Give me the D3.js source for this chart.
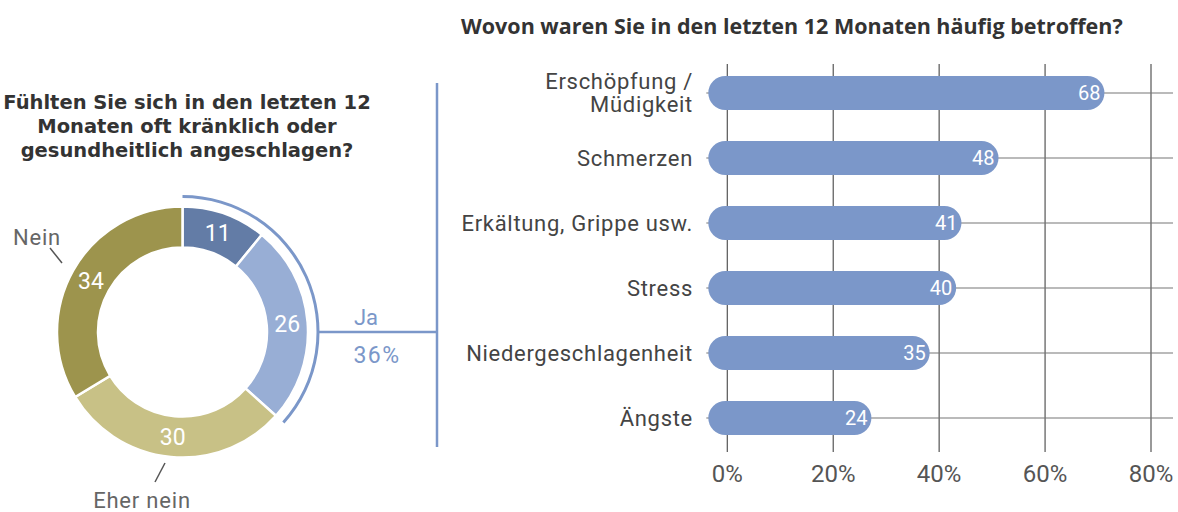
<!DOCTYPE html>
<html>
<head>
<meta charset="utf-8">
<script src="https://cdn.jsdelivr.net/npm/d3@7"></script>
<style>
  body { margin: 0; background: #fff; }
  svg { display: block; font-family: Roboto, "Noto Sans", sans-serif; }
</style>
</head>
<body>
<script>
// Daten Ringdiagramm
var ringKategorien = ["Ja", "Eher ja", "Eher nein", "Nein"];
var ringWerte = [11, 26, 30, 34];
var ringFarben = ["#637ca6", "#98aed5", "#c8c186", "#9d944d"];
var jaSumme = "36%";

// Daten Balkendiagramm
var balkenKategorien = ["Erschöpfung / Müdigkeit", "Schmerzen", "Erkältung, Grippe usw.", "Stress", "Niedergeschlagenheit", "Ängste"];
var balkenZeilen = [["Erschöpfung /", "Müdigkeit"], ["Schmerzen"], ["Erkältung, Grippe usw."], ["Stress"], ["Niedergeschlagenheit"], ["Ängste"]];
var balkenWerte = [68, 48, 41, 40, 35, 24];
var ticks = [0, 20, 40, 60, 80];

var blau = "#7b97c9";
var titelFont = "'Open Sans', Roboto, sans-serif";

var svg = d3.select("body").append("svg").attr("width", 1178).attr("height", 512);

// ---------- linker Teil: Ring ----------
var titelLinks = ["Fühlten Sie sich in den letzten 12", "Monaten oft kränklich oder", "gesundheitlich angeschlagen?"];
svg.append("g").selectAll("text").data(titelLinks).enter().append("text")
  .attr("x", 187).attr("y", function (d, i) { return 109 + i * 24; })
  .attr("text-anchor", "middle").attr("font-size", 19.5).attr("font-weight", "bold")
  .attr("font-family", "'DejaVu Sans', sans-serif")
  .attr("fill", "#333").text(function (d) { return d; });

var cx = 182.5, cy = 332;
var rInnen = 84.5, rAussen = 125.5;
var ring = svg.append("g").attr("transform", "translate(" + cx + "," + cy + ")");

var pie = d3.pie().sort(null).value(function (d) { return d; });
var boegen = pie(ringWerte);
var arc = d3.arc().innerRadius(rInnen).outerRadius(rAussen);

ring.selectAll("path.seg").data(boegen).enter().append("path")
  .attr("class", "seg")
  .attr("d", arc)
  .attr("fill", function (d, i) { return ringFarben[i]; })
  .attr("stroke", "#fff").attr("stroke-width", 2.5);

ring.selectAll("text.wert").data(boegen).enter().append("text")
  .attr("class", "wert")
  .attr("transform", function (d) { return "translate(" + arc.centroid(d) + ")"; })
  .attr("text-anchor", "middle").attr("dy", "0.36em")
  .attr("font-size", 23).attr("fill", "#fff")
  .text(function (d) { return d.data; });

// Klammer fuer "Ja"
var jaEnde = boegen[1].endAngle;
var klammer = d3.arc().innerRadius(134).outerRadius(137).startAngle(0).endAngle(jaEnde);
ring.append("path").attr("d", klammer()).attr("fill", blau);

// Beschriftungen Nein / Eher nein
var aussenLabels = [
  { idx: 3, x: 37, y: 245, l: [[50, 248], [62, 263]] },
  { idx: 2, x: 142, y: 508, l: [[165, 463], [155, 482]] }
];
aussenLabels.forEach(function (a) {
  svg.append("line").attr("x1", a.l[0][0]).attr("y1", a.l[0][1]).attr("x2", a.l[1][0]).attr("y2", a.l[1][1])
    .attr("stroke", "#555").attr("stroke-width", 1.5);
  svg.append("text").attr("x", a.x).attr("y", a.y).attr("text-anchor", "middle")
    .attr("font-size", 22).attr("letter-spacing", 0.8).attr("fill", "#666").text(ringKategorien[a.idx]);
});

// Verbindung zum Balkendiagramm
svg.append("line").attr("x1", cx + 136).attr("x2", 437).attr("y1", cy).attr("y2", cy)
  .attr("stroke", blau).attr("stroke-width", 2.5);
svg.append("line").attr("x1", 437).attr("x2", 437).attr("y1", 83).attr("y2", 447)
  .attr("stroke", blau).attr("stroke-width", 2.5);
svg.append("text").attr("x", 366).attr("y", 325).attr("text-anchor", "middle")
  .attr("font-size", 22).attr("fill", blau).text(ringKategorien[0]);
svg.append("text").attr("x", 377).attr("y", 363).attr("text-anchor", "middle")
  .attr("font-size", 23).attr("letter-spacing", 1.5).attr("fill", blau).text(jaSumme);

// ---------- rechter Teil: Balken ----------
svg.append("text").attr("x", 461).attr("y", 34).attr("font-size", 21.5).attr("font-weight", "bold")
  .attr("font-family", titelFont)
  .attr("fill", "#333").text("Wovon waren Sie in den letzten 12 Monaten häufig betroffen?");

var x = d3.scaleLinear().domain([0, 80]).range([727.3, 1151]);
var y = d3.scalePoint().domain(balkenKategorien).range([93, 418]);
var kappe = 17;

var gitter = svg.append("g");
gitter.selectAll("line.v").data(ticks).enter().append("line")
  .attr("x1", function (d) { return x(d); }).attr("x2", function (d) { return x(d); })
  .attr("y1", 64).attr("y2", 452).attr("stroke", "#555").attr("stroke-width", 1.2);
gitter.selectAll("line.h").data(balkenKategorien).enter().append("line")
  .attr("x1", x(0) - 21).attr("x2", 1173)
  .attr("y1", function (d) { return y(d); }).attr("y2", function (d) { return y(d); })
  .attr("stroke", "#777").attr("stroke-width", 1.2);

svg.append("g").selectAll("text").data(ticks).enter().append("text")
  .attr("x", function (d) { return x(d); }).attr("y", 482)
  .attr("text-anchor", "middle").attr("font-size", 24).attr("fill", "#555")
  .text(function (d) { return d + "%"; });

var balken = svg.append("g");
balken.selectAll("line").data(balkenWerte).enter().append("line")
  .attr("x1", x(0) - 2).attr("x2", function (d) { return x(d); })
  .attr("y1", function (d, i) { return y(balkenKategorien[i]); })
  .attr("y2", function (d, i) { return y(balkenKategorien[i]); })
  .attr("stroke", "#7b97c9").attr("stroke-width", kappe * 2).attr("stroke-linecap", "round");

balken.selectAll("text").data(balkenWerte).enter().append("text")
  .attr("x", function (d) { return x(d) + 13; })
  .attr("y", function (d, i) { return y(balkenKategorien[i]); })
  .attr("dy", "0.36em").attr("text-anchor", "end").attr("font-size", 20).attr("fill", "#fff")
  .text(function (d) { return d; });

var kat = svg.append("g").selectAll("text").data(balkenZeilen).enter().append("text")
  .attr("text-anchor", "end").attr("font-size", 22).attr("fill", "#444").attr("letter-spacing", 0.7)
  .attr("transform", function (d, i) { return "translate(693," + y(balkenKategorien[i]) + ")"; });
kat.selectAll("tspan").data(function (d) { return d; }).enter().append("tspan")
  .attr("x", 0)
  .attr("y", function (d, i, n) { return (i - (n.length - 1) / 2) * 23; })
  .attr("dy", "0.36em")
  .text(function (d) { return d; });
</script>
</body>
</html>
